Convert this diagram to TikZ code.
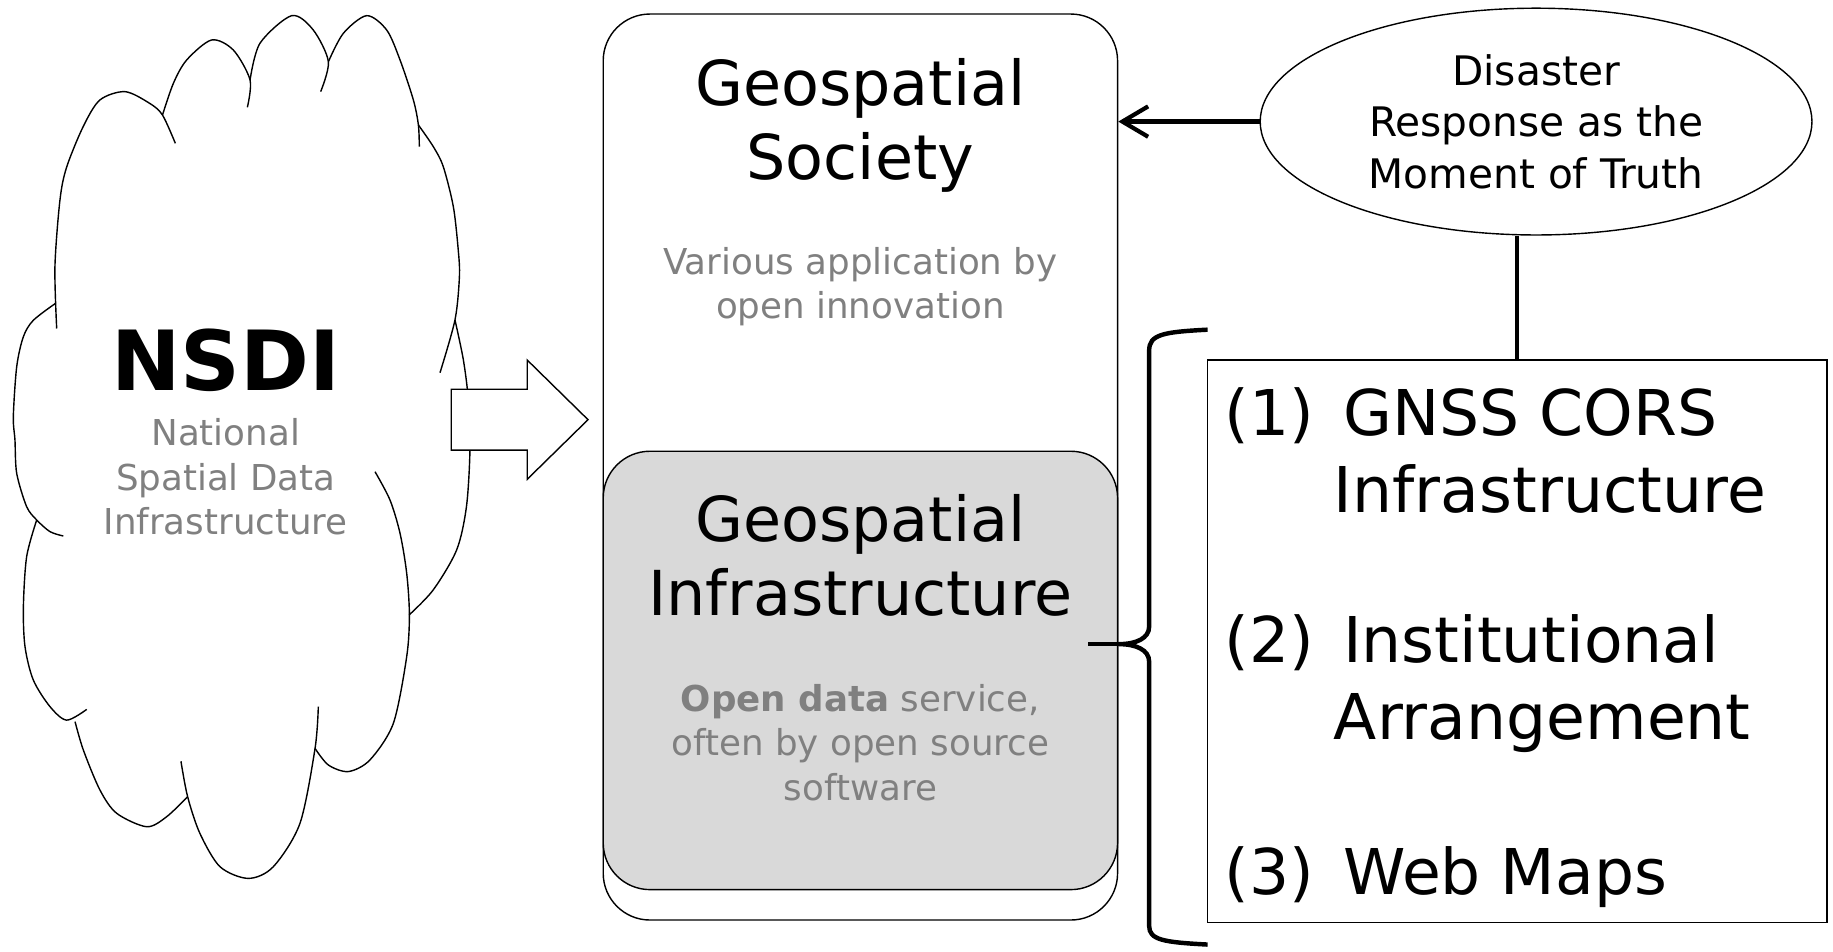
\documentclass[tikz,border=0pt]{standalone}
\usepackage{fontspec}
\setmainfont{DejaVu Sans}
\usepackage{tikz}
\usetikzlibrary{arrows.meta,shapes.geometric}
\definecolor{txtgray}{RGB}{128,128,128}
\definecolor{fillgray}{RGB}{217,217,217}

\begin{document}
\begin{tikzpicture}[x=0.5pt,y=0.5pt,
 panel/.style={draw,line width=.6pt,rounded corners=20pt,minimum width=220pt,inner sep=0pt},
 title/.style={align=center,font=\fontsize{26.5}{31.5}\selectfont},
 note/.style={align=center,text=txtgray,font=\fontsize{15.25}{19}\selectfont},
 item/.style={anchor=west,align=left,inner sep=0pt,font=\fontsize{27}{33}\selectfont},
 puff/.style={line width=.6pt},
 conn/.style={line width=1.8pt},
 bracket/.style={line width=1.9pt}]
\fill[white] (0,0) rectangle (1568,-814);
\useasboundingbox (0,0) rectangle (1568,-814);
\node[panel,minimum height=387.5pt] (soc) at (736,-399.5) {};
\node[panel,minimum height=187.5pt,fill=fillgray] (infra) at (736,-573.5) {};
\node[draw,line width=.6pt,minimum width=265pt,minimum height=240.5pt,inner sep=0pt] (items) at (1298,-548.5) {};
\node[draw,line width=.6pt,ellipse,minimum width=236pt,minimum height=97pt,inner sep=0pt,align=center,font=\fontsize{17.4}{22}\selectfont] (dis) at (1314,-104) {Disaster\\Response as the\\Moment of Truth};
\node[title] (socT) at (736,-107) {Geospatial\\Society};
\node[note] (socN) at (736,-245) {Various application by\\open innovation};
\node[title] (infT) at (736,-475) {Geospatial\\Infrastructure};
\node[note] (infN) at (736,-635) {\textbf{Open data} service,\\often by open source\\software};
\node[item] (it1) at (1047,-388.5) {(1)\hspace{4pt} GNSS CORS\\\phantom{(1) }Infrastructure};
\node[item] (it2) at (1047,-585) {(2)\hspace{4pt} Institutional\\\phantom{(2) }Arrangement};
\node[item] (it3) at (1047,-750) {(3)\hspace{4pt} Web Maps};
\draw[conn,-{Straight Barb[length=11pt,width=13pt]}] (dis.west) -- (dis.west -| soc.east);
\draw[conn] (items.north |- dis.south) -- (items.north);
\coordinate (tip) at (957,-551);
\draw[bracket] (1033,-282) .. controls (995,-284) and (983,-286) .. (983,-300) -- (983,-536)
 .. controls (983,-546) and (972,-551) .. (tip) .. controls (972,-551) and (983,-556) .. (983,-566)
 -- (983,-792) .. controls (983,-804) and (995,-806) .. (1033,-808);
\draw[bracket] (tip) -- ++(-26,0);
\draw[puff] plot[smooth] coordinates {(48.5,-281) (47,-228) (51.3,-171) (57,-143) (71.3,-108) (85.5,-85.5) (107,-78.4) (128,-88.4) (139,-98.4) (150,-122.6)};
\draw[puff] plot[smooth] coordinates {(139,-98.4) (148.3,-71.3) (159.7,-51.3) (181,-34.2) (199.6,-42.8) (213.9,-68.4) (211.6,-91.8)};
\draw[puff] plot[smooth] coordinates {(213.9,-68.4) (222.4,-37) (249.5,-13.4) (268,-25.7) (280.9,-52.8) (274.3,-78.4)};
\draw[puff] plot[smooth] coordinates {(280.9,-52.8) (293.7,-28.5) (313.7,-13.4) (330.8,-25.7) (342.2,-51.3) (353.6,-85.5) (357.9,-106.9) (358.7,-125.5)};
\draw[puff] plot[smooth] coordinates {(357.9,-106.9) (370.7,-125.5) (379.2,-142.6) (387.8,-176.8) (392,-213.9) (393,-236.7) (389.2,-273.7) (376.4,-318.8)};
\draw[puff] plot[smooth] coordinates {(389.2,-273.7) (396.4,-308) (400.6,-342) (402,-385) (399,-433.5) (390.6,-470.5) (370.6,-504.6) (350,-526)};
\draw[puff] plot[smooth] coordinates {(320.8,-403.5) (333.6,-427.7) (342.2,-456.2) (347.9,-490.4) (350.2,-526) (347.9,-561.7) (336.5,-618.7) (316.5,-650) (298,-660) (280.9,-654.4) (269.5,-640.2)};
\draw[puff] plot[smooth] coordinates {(272.3,-604.5) (269.5,-640.2) (256.6,-704.3) (233.8,-741.4) (212.4,-751.4) (188.2,-741.4) (171,-712.9) (160.5,-681.5) (154.8,-651.2)};
\draw[puff] plot[smooth] coordinates {(160.5,-681.5) (142.6,-698.6) (125.5,-707.2) (99.8,-695.7) (85.5,-675.8) (71.3,-641.6) (64.2,-617.3)};
\draw[puff] plot[smooth] coordinates {(31.4,-444.8) (22.8,-476.2) (20,-519.4) (21.4,-553.2) (28.5,-581.7) (42.8,-604.5) (57,-616) (74.2,-606.8)};
\draw[puff] plot[smooth] coordinates {(47.5,-259.5) (28.5,-274) (20,-288) (14.3,-313.6) (11.4,-356.4) (12.8,-376.4) (14.3,-405) (22.8,-433.4) (31.4,-444.8) (42.8,-454.8) (54.2,-458.5)};
\node[font=\fontsize{35.5}{40}\selectfont\bfseries] (nsdi) at (193,-308) {NSDI};
\node[note] (nsdiN) at (193,-408) {National\\Spatial Data\\Infrastructure};
\coordinate (flow) at (386,-359);
\draw[line width=.6pt,fill=white] (flow) ++(0,26) -- ++(65,0) -- ++(0,25) -- ++(52,-51) -- ++(-52,-51) -- ++(0,25) -- ++(-65,0) -- cycle;
\end{tikzpicture}
\end{document}
